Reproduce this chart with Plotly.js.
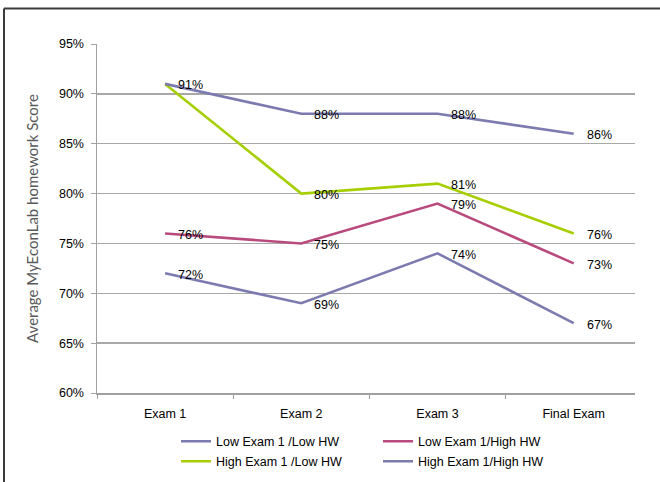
<!DOCTYPE html>
<html>
<head>
<meta charset="utf-8">
<script src="https://cdn.plot.ly/plotly-3.0.1.min.js"></script>
<style>
  html, body { margin: 0; padding: 0; background: #fff; }
  #chart { width: 660px; height: 482px; }
</style>
</head>
<body>
<div id="chart"></div>
<script>
// ---- data ----
const categories = ["Exam 1", "Exam 2", "Exam 3", "Final Exam"];
const seriesNames = ["Low Exam 1 /Low HW", "Low Exam 1/High HW", "High Exam 1 /Low HW", "High Exam 1/High HW"];
const lowLow   = [72, 69, 74, 67];
const lowHigh  = [76, 75, 79, 73];
const highLow  = [91, 80, 81, 76];
const highHigh = [91, 88, 88, 86];
const yTickVals = [60, 65, 70, 75, 80, 85, 90, 95];
const yTitle = "Average MyEconLab homework Score";

// ---- styling ----
const colors = ["#7B7BB0", "#B94A7E", "#A5CF00", "#7B7BB0"];
const legendIds = ["legend", "legend", "legend2", "legend2"];
const allSeries = [lowLow, lowHigh, highLow, highHigh];

const W = 660, H = 482;
const M = { l: 97, r: 25, t: 43.5, b: 89, autoexpand: false };
const pw = W - M.l - M.r, ph = H - M.t - M.b;
const px = v => (v - M.l) / pw;
const py = v => (H - M.b - v) / ph;

const font = "Liberation Sans, Arial, sans-serif";

const traces = allSeries.map((vals, i) => ({
  type: "scatter",
  mode: "lines",
  x: categories,
  y: vals,
  name: seriesNames[i],
  legend: legendIds[i],
  line: { color: colors[i], width: 2.6 },
  hoverinfo: "skip"
}));

const annotations = [];
const seen = new Set();
allSeries.forEach(vals => {
  vals.forEach((v, j) => {
    const key = j + ":" + v;
    if (seen.has(key)) return;
    seen.add(key);
    annotations.push({
      x: categories[j], y: v, xref: "x", yref: "y",
      text: v + "%", showarrow: false,
      xanchor: "left", yanchor: "middle",
      xshift: 11, yshift: -1.5,
      font: { family: font, size: 12.5, color: "#000" }
    });
  });
});

const legendCommon = {
  orientation: "h", xanchor: "left", yanchor: "middle",
  entrywidth: 157, entrywidthmode: "pixels",
  font: { family: font, size: 12.5, color: "#000" },
  bgcolor: "rgba(0,0,0,0)", borderwidth: 0, traceorder: "normal"
};

const layout = {
  width: W, height: H,
  margin: M,
  paper_bgcolor: "#fff",
  plot_bgcolor: "#fff",
  font: { family: font, size: 12, color: "#000" },
  showlegend: true,
  xaxis: {
    type: "category",
    range: [-0.5, 3.45],
    showgrid: false,
    showline: true, linecolor: "#A0A0A0", linewidth: 1.5,
    ticks: "outside", tickson: "boundaries", ticklen: 4, tickcolor: "#A0A0A0", tickwidth: 1,
    tickfont: { family: font, size: 12.5, color: "#000" },
    ticklabelstandoff: 8,
    zeroline: false, fixedrange: true
  },
  yaxis: {
    range: [60, 95],
    tickvals: yTickVals,
    ticktext: yTickVals.map(v => v + "%"),
    showgrid: true, gridcolor: "#A8A8A8", gridwidth: 1.5,
    showline: true, linecolor: "#A0A0A0", linewidth: 1.5,
    ticks: "outside", ticklen: 5, tickcolor: "#A0A0A0", tickwidth: 1,
    tickfont: { family: font, size: 12.5, color: "#000" },
    ticklabelstandoff: 4,
    zeroline: false, fixedrange: true,
    title: { text: yTitle, font: { family: "Lato, Noto Sans, sans-serif", size: 15, color: "#595959" }, standoff: 16 }
  },
  legend: Object.assign({}, legendCommon, { x: px(176), y: py(441.7) }),
  legend2: Object.assign({}, legendCommon, { x: px(176), y: py(461.7) }),
  annotations: annotations,
  shapes: [
    { type: "line", xref: "paper", yref: "paper", x0: px(4), x1: px(662), y0: py(8), y1: py(8), line: { color: "#3A3A3A", width: 2 } },
    { type: "line", xref: "paper", yref: "paper", x0: px(4), x1: px(4), y0: py(8), y1: py(484), line: { color: "#3A3A3A", width: 2 } }
  ]
};

Plotly.newPlot("chart", traces, layout, { displayModeBar: false, staticPlot: true });
</script>
</body>
</html>
